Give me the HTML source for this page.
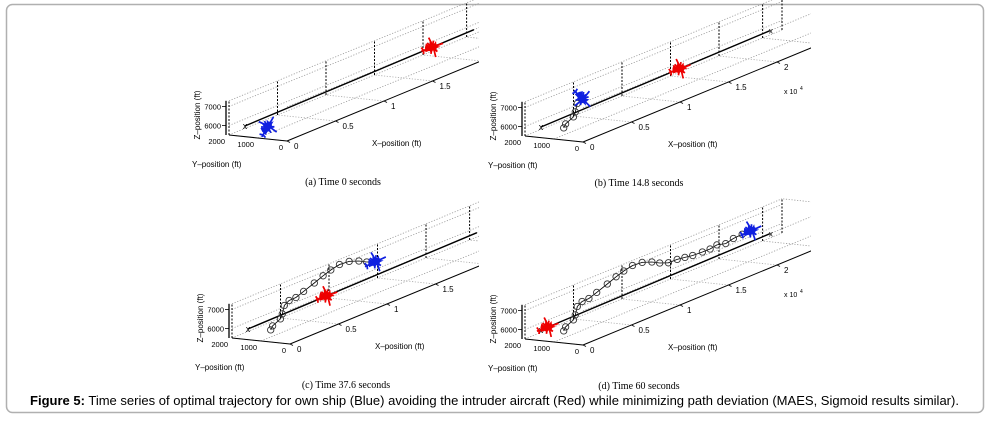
<!DOCTYPE html>
<html><head><meta charset="utf-8"><style>
html,body{margin:0;padding:0;background:#fff;}
svg{display:block;}
</style></head><body>
<svg id="fig" width="989" height="422" viewBox="0 0 989 422" xmlns="http://www.w3.org/2000/svg">
<defs>
<clipPath id="clipL"><rect x="0" y="0" width="479" height="422"/></clipPath>
<clipPath id="clipR"><rect x="479" y="0" width="332" height="422"/></clipPath>
</defs>
<rect x="6.5" y="4.5" width="977" height="408" rx="6" fill="#fff" stroke="#b0b0b0" stroke-width="1.5"/>
<text x="30" y="405" font-family="Liberation Sans, sans-serif" font-size="13" fill="#000" textLength="929" lengthAdjust="spacingAndGlyphs"><tspan font-weight="bold">Figure 5:</tspan> Time series of optimal trajectory for own ship (Blue) avoiding the intruder aircraft (Red) while minimizing path deviation (MAES, Sigmoid results similar).</text>
</svg>
<script>
// ---- data ----
const panelTitles = ["(a)  Time 0 seconds", "(b)  Time 14.8 seconds", "(c)  Time 37.6 seconds", "(d)  Time 60 seconds"];
const panelTimes = [0, 14.8, 37.6, 60];
// own-ship optimal path (X in 1e4 ft, Y ft, Z ft)
const pathX = [0.01,0.03,0.11,0.13,0.15,0.20,0.27,0.35,0.46,0.55,0.63,0.72,0.82,0.92,1.00,1.09,1.18,1.26,1.34,1.44,1.52,1.59,1.68,1.76,1.85,1.94];
const pathY = [700,700,700,700,700,700,700,700,700,700,700,700,700,700,700,700,700,700,700,700,700,700,700,700,700,700];
const pathZ = [6110,6280,6480,6700,7100,7260,7270,7420,7630,7820,7960,8060,8010,7820,7600,7420,7410,7350,7280,7250,7240,7310,7190,7290,7320,7310];
// number of path points flown at each snapshot
const pathCount = [1, 6, 16, 26];
// nominal (desired) path
const nominalX = [0, 2.36];
const nominalY = [1450, 1450];
const nominalZ = [6060, 6160];
// intruder X position at each snapshot (on nominal path)
const intruderX = [1.93, 1.43, 0.81, 0.07];
// axis ticks
const xTicks = [0, 0.5, 1, 1.5, 2];
const xTickLabels = ["0", "0.5", "1", "1.5", "2"];
const yTicks = [0, 1000, 2000];
const zTicks = [6000, 7000];

// ---- projection ----
const origins = [[287,141],[583,142],[290,344],[583,345]];
const XMAX = 2.45, YMAX = 2000, ZMIN = 5500, ZMAX = 7300;
function proj(o, X, Y, Z){
  return [o[0] + X*97 - Y/1000*29, o[1] - X*40 - Y/1000*3 - (Z-ZMIN)/1000*19];
}
const NS = "http://www.w3.org/2000/svg";
const svg = document.getElementById('fig');
function mk(tag, attrs, parent){
  const e = document.createElementNS(NS, tag);
  for (const k in attrs) e.setAttribute(k, attrs[k]);
  parent.appendChild(e);
  return e;
}
function line(g, a, b, stroke, w, dash){
  const l = mk('line', {x1:a[0].toFixed(1), y1:a[1].toFixed(1), x2:b[0].toFixed(1), y2:b[1].toFixed(1), stroke:stroke, 'stroke-width':w}, g);
  if (dash) l.setAttribute('stroke-dasharray', dash);
  return l;
}
function txt(g, x, y, s, size, anchor, fam){
  const t = mk('text', {x:x, y:y, 'font-size':size, 'font-family': fam || 'Liberation Sans, sans-serif', fill:'#000', 'text-anchor':anchor||'start'}, g);
  t.textContent = s;
  return t;
}
function plane(g, c, color, rot, scale){
  const s = scale;
  const pg = mk('g', {transform:`translate(${c[0].toFixed(1)},${c[1].toFixed(1)}) rotate(${rot}) scale(${s})`}, g);
  
  
  mk('path', {d:'M-10,0 L10,0 M0,-9 L1,0 L0,9 M-9,-3 L-8,0 L-9,3 M-3,-5 L3,5 M-3,5 L3,-5', stroke:color, 'stroke-width':1.5, fill:'none'}, pg);
  mk('ellipse', {cx:0, cy:0, rx:5, ry:3, fill:color}, pg);
  mk('path', {d:'M-6,-2 L-4,-5 L-2,-2 L0,-6 L2,-2 L5,-4 L4,0 L7,2 L3,2 L2,5 L0,2 L-3,5 L-3,2 L-7,2 Z', fill:color}, pg);
}

for (let p = 0; p < 4; p++){
  const o = origins[p];
  const g = mk('g', {'clip-path': (p%2===0) ? 'url(#clipL)' : 'url(#clipR)'}, svg);
  
  
  const gr = mk('g', {}, g);
  
  
  const lng = [[1000,ZMIN],[YMAX,ZMIN],[YMAX,6000],[YMAX,7000],[YMAX,ZMAX],[0,ZMAX]];
  lng.forEach(([Y,Z]) => line(gr, proj(o,0,Y,Z), proj(o,XMAX+0.2,Y,Z), '#999', 0.8, '1.2,1.6'));
  xTicks.forEach(X => {
    line(gr, proj(o,X,0,ZMIN), proj(o,X,YMAX,ZMIN), '#aaa', 0.8, '1.2,1.6');
    line(gr, proj(o,X,YMAX,ZMIN), proj(o,X,YMAX,ZMAX), '#000', 1, '2,1.5');
  });
  line(gr, proj(o,XMAX,YMAX,ZMIN), proj(o,XMAX,YMAX,ZMAX), '#000', 1, '2,1.5');
  line(gr, proj(o,XMAX+0.2,YMAX,ZMIN), proj(o,XMAX+0.2,YMAX,ZMAX), '#000', 1, '2,1.5');
  line(gr, proj(o,XMAX+0.2,0,ZMAX), proj(o,XMAX+0.2,YMAX,ZMAX), '#999', 0.8, '1.2,1.6');
  line(gr, proj(o,XMAX,0,ZMIN), proj(o,XMAX,YMAX,ZMIN), '#999', 0.8, '1.2,1.6');
  const ax = mk('g', {}, g);
  
  
  line(ax, proj(o,0,0,ZMIN), proj(o,XMAX+0.2,0,ZMIN), '#000', 1);
  line(ax, proj(o,0,0,ZMIN), proj(o,0,YMAX,ZMIN), '#000', 1);
  const zb = proj(o,0,YMAX,ZMIN), zt = proj(o,0,YMAX,ZMAX);
  line(ax, [zb[0]-3,zb[1]], [zt[0]-3,zt[1]], '#000', 1.3);
  xTicks.forEach((X,i) => {
    if (p%2===0 && X > 1.6) return;
    const a = proj(o,X,0,ZMIN);
    line(ax, a, [a[0]+3,a[1]+1.5], '#000', 0.8);
    txt(ax, a[0]+7, a[1]+8, xTickLabels[i], 8);
  });
  yTicks.forEach(Y => {
    const a = proj(o,0,Y,ZMIN);
    txt(ax, a[0]-4, a[1]+9, String(Y), 7.5, 'end');
  });
  zTicks.forEach(Z => {
    const a = proj(o,0,YMAX,Z);
    line(ax, [a[0]-3,a[1]], [a[0]-7,a[1]], '#000', 0.8);
    txt(ax, a[0]-8, a[1]+3, String(Z), 7.5, 'end');
  });
  const xl = txt(ax, o[0]+85, o[1]+5, 'X\u2013position (ft)', 8);
  
  
  const yl = txt(ax, o[0]-95, o[1]+26, 'Y\u2013position (ft)', 8);
  
  
  const zl = txt(ax, 0, 0, 'Z\u2013position (ft)', 8, 'middle');
  zl.setAttribute('transform', `translate(${o[0]-87},${o[1]-26}) rotate(-90)`);
  
  
  if (p%2===1){
    const ex = txt(ax, o[0]+201, o[1]-48, 'x 10', 7);
    
    
    txt(ax, o[0]+217, o[1]-52, '4', 5);
  }
  const n0 = proj(o,nominalX[0],nominalY[0],nominalZ[0]);
  const n1 = proj(o,nominalX[1],nominalY[1],nominalZ[1]);
  const nl = line(g, n0, n1, '#000', 1.4);
  
  
  const mkx = txt(g, n0[0], n0[1]+3, 'x', 9, 'middle');
  
  
  if (p%2===1){
    const ex2 = txt(g, n1[0]+1, n1[1]+3, 'x', 8, 'middle');
    
    
  }
  const n = pathCount[p];
  const pts = [];
  for (let i = 0; i < n; i++) pts.push(proj(o, pathX[i], pathY[i], pathZ[i]));
  if (n > 1){
    const pl = mk('polyline', {points: pts.map(q=>q[0].toFixed(1)+','+q[1].toFixed(1)).join(' '), fill:'none', stroke:'#000', 'stroke-width':0.8}, g);
    
    
    pts.forEach((q,i) => {
      const c = mk('circle', {cx:q[0].toFixed(1), cy:q[1].toFixed(1), r:3.2, fill:'none', stroke:'#333', 'stroke-width':0.9}, g);
      
      
    });
  }
  const ix = intruderX[p];
  const t = (ix - nominalX[0])/(nominalX[1]-nominalX[0]);
  plane(g, proj(o, ix, nominalY[0], nominalZ[0] + t*(nominalZ[1]-nominalZ[0])), '#e00', -20, 1.15);
  plane(g, pts[n-1], '#1020e0', p===1 ? 45 : (p===0 ? -60 : -25), 1.15);
  const cap = txt(svg, o[0]+56, o[1]+44, panelTitles[p], 10, 'middle', 'Liberation Serif, serif');
  
  
}
</script>
</body></html>
